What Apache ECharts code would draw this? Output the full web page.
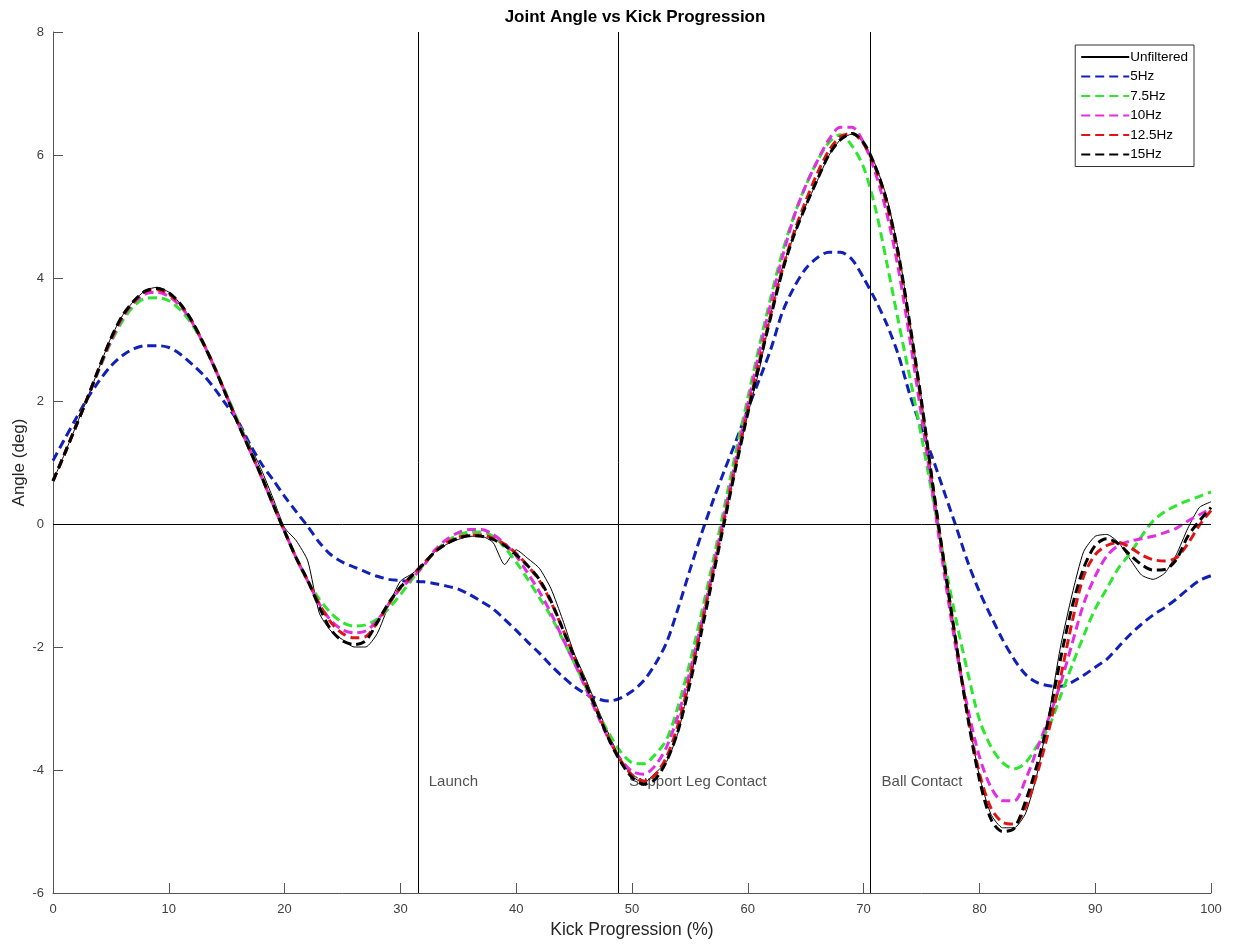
<!DOCTYPE html>
<html>
<head>
<meta charset="utf-8">
<title>Joint Angle vs Kick Progression</title>
<script src="https://cdn.jsdelivr.net/npm/echarts@6/dist/echarts.min.js"></script>
<style>
  html, body { margin: 0; padding: 0; background: #ffffff; }
  #chart { width: 1234px; height: 947px; }
</style>
</head>
<body>
<div id="chart"></div>
<script>
// Kick progression (%) sampled every 1 %
const progress = [
  0,1,2,3,4,5,6,7,8,9,10,11,12,13,14,15,16,17,18,19,20,
  21,22,23,24,25,26,27,28,29,30,31,32,33,34,35,36,37,38,39,40,
  41,42,43,44,45,46,47,48,49,50,51,52,53,54,55,56,57,58,59,60,
  61,62,63,64,65,66,67,68,69,70,71,72,73,74,75,76,77,78,79,80,
  81,82,83,84,85,86,87,88,89,90,91,92,93,94,95,96,97,98,99,100
];

// Joint angle (deg), raw signal
const unfiltered = [
  0.70,1.14,1.60,2.06,2.55,3.03,3.39,3.63,3.80,3.85,3.77,3.58,3.30,2.93,2.54,2.11,1.68,1.28,0.88,0.42,-0.06,
  -0.27,-0.60,-1.45,-1.74,-1.88,-2.00,-2.00,-1.78,-1.32,-0.93,-0.81,-0.66,-0.45,-0.33,-0.25,-0.20,-0.20,-0.30,-0.66,-0.42,
  -0.56,-0.72,-1.05,-1.55,-2.10,-2.52,-2.98,-3.42,-3.82,-4.10,-4.21,-4.05,-3.86,-3.38,-2.55,-1.70,-0.80,0.08,0.98,1.78,
  2.52,3.42,4.18,4.70,5.17,5.58,5.99,6.25,6.34,6.20,5.85,5.31,4.45,3.28,2.02,0.60,-0.68,-1.90,-3.10,-4.10,
  -4.72,-4.94,-4.94,-4.70,-4.05,-3.10,-2.00,-1.15,-0.45,-0.20,-0.17,-0.30,-0.57,-0.83,-0.90,-0.80,-0.50,-0.07,0.27,0.36
];

// Low-pass filtered versions of the same signal
const hz5 = [
  1.03,1.38,1.72,2.05,2.33,2.57,2.74,2.85,2.90,2.90,2.87,2.76,2.60,2.42,2.19,1.93,1.66,1.30,0.98,0.72,0.45,
  0.20,-0.04,-0.30,-0.50,-0.62,-0.70,-0.78,-0.85,-0.90,-0.92,-0.93,-0.94,-0.97,-1.01,-1.06,-1.15,-1.26,-1.38,-1.55,-1.73,
  -1.92,-2.10,-2.30,-2.48,-2.64,-2.76,-2.84,-2.88,-2.83,-2.72,-2.55,-2.28,-1.92,-1.36,-0.75,-0.16,0.38,0.88,1.36,1.87,
  2.35,2.85,3.45,3.85,4.15,4.33,4.42,4.42,4.30,4.00,3.65,3.25,2.75,2.10,1.55,1.05,0.50,-0.05,-0.62,-1.10,
  -1.50,-1.88,-2.20,-2.45,-2.58,-2.63,-2.64,-2.57,-2.46,-2.33,-2.20,-2.00,-1.80,-1.63,-1.48,-1.36,-1.22,-1.06,-0.92,-0.84
];

const hz7_5 = [
  0.70,1.14,1.60,2.06,2.52,2.95,3.30,3.55,3.67,3.68,3.63,3.48,3.25,2.92,2.53,2.10,1.66,1.22,0.78,0.33,-0.12,
  -0.55,-0.93,-1.22,-1.45,-1.60,-1.66,-1.64,-1.55,-1.37,-1.15,-0.90,-0.66,-0.45,-0.28,-0.18,-0.13,-0.13,-0.20,-0.38,-0.62,
  -0.90,-1.20,-1.50,-1.87,-2.25,-2.65,-3.05,-3.40,-3.70,-3.88,-3.90,-3.75,-3.50,-2.95,-2.25,-1.45,-0.60,0.30,1.20,2.05,
  2.90,3.70,4.43,5.02,5.50,5.90,6.20,6.33,6.15,5.80,5.15,4.25,3.30,2.38,1.42,0.40,-0.63,-1.57,-2.42,-3.18,
  -3.62,-3.88,-3.98,-3.88,-3.60,-3.30,-2.80,-2.30,-1.82,-1.38,-1.05,-0.72,-0.48,-0.20,0.05,0.20,0.30,0.38,0.45,0.52
];

const hz10 = [
  0.70,1.14,1.60,2.06,2.53,2.98,3.35,3.60,3.74,3.77,3.70,3.54,3.28,2.93,2.52,2.08,1.63,1.20,0.77,0.32,-0.12,
  -0.55,-0.93,-1.30,-1.57,-1.72,-1.77,-1.74,-1.57,-1.30,-1.05,-0.88,-0.68,-0.42,-0.25,-0.14,-0.09,-0.09,-0.17,-0.32,-0.52,
  -0.80,-1.10,-1.45,-1.85,-2.25,-2.67,-3.10,-3.50,-3.82,-4.02,-4.07,-3.93,-3.62,-3.10,-2.40,-1.60,-0.72,0.18,1.08,1.95,
  2.80,3.60,4.35,5.00,5.50,5.90,6.25,6.45,6.45,6.20,5.72,5.05,4.15,3.00,1.75,0.45,-0.85,-2.05,-3.00,-3.78,
  -4.28,-4.50,-4.50,-4.15,-3.65,-3.15,-2.60,-1.95,-1.30,-0.85,-0.52,-0.35,-0.28,-0.24,-0.20,-0.14,-0.07,0.05,0.15,0.25
];

const hz12_5 = [
  0.70,1.14,1.60,2.06,2.55,3.00,3.37,3.62,3.78,3.81,3.74,3.57,3.30,2.94,2.53,2.08,1.63,1.20,0.77,0.32,-0.12,
  -0.55,-0.92,-1.30,-1.60,-1.78,-1.85,-1.83,-1.60,-1.30,-1.03,-0.84,-0.64,-0.45,-0.30,-0.22,-0.18,-0.18,-0.23,-0.33,-0.48,
  -0.68,-0.92,-1.27,-1.70,-2.15,-2.60,-3.05,-3.48,-3.84,-4.08,-4.18,-4.08,-3.78,-3.25,-2.50,-1.65,-0.78,0.10,1.00,1.85,
  2.65,3.42,4.15,4.75,5.25,5.70,6.07,6.30,6.35,6.18,5.80,5.20,4.35,3.20,1.95,0.60,-0.70,-1.95,-3.12,-4.05,
  -4.62,-4.85,-4.88,-4.60,-4.05,-3.35,-2.50,-1.60,-0.85,-0.50,-0.35,-0.30,-0.38,-0.50,-0.58,-0.60,-0.55,-0.32,-0.02,0.22
];

const hz15 = [
  0.70,1.14,1.60,2.06,2.55,3.02,3.39,3.63,3.79,3.83,3.76,3.58,3.30,2.93,2.52,2.07,1.62,1.20,0.78,0.32,-0.12,
  -0.55,-0.92,-1.35,-1.72,-1.90,-1.96,-1.90,-1.60,-1.28,-1.03,-0.84,-0.65,-0.45,-0.32,-0.23,-0.19,-0.20,-0.25,-0.35,-0.50,
  -0.68,-0.90,-1.25,-1.70,-2.15,-2.60,-3.05,-3.50,-3.86,-4.12,-4.23,-4.15,-3.85,-3.35,-2.60,-1.75,-0.85,0.05,0.95,1.80,
  2.60,3.38,4.12,4.70,5.17,5.60,6.00,6.25,6.35,6.20,5.82,5.25,4.40,3.25,2.00,0.60,-0.70,-1.95,-3.15,-4.15,
  -4.80,-5.00,-4.95,-4.50,-3.90,-3.15,-2.20,-1.35,-0.72,-0.35,-0.24,-0.32,-0.50,-0.66,-0.75,-0.74,-0.58,-0.20,0.05,0.27
];

// Kick events (% of kick)
const eventNames = ['Launch', 'Support Leg Contact', 'Ball Contact'];
const eventAt = [31.5, 48.8, 70.6];

// Axis ticks
const xTicks = [0, 10, 20, 30, 40, 50, 60, 70, 80, 90, 100];
const yTicks = [-6, -4, -2, 0, 2, 4, 6, 8];

const pairs = ys => progress.map((x, i) => [x, ys[i]]);

const FONT = '"Liberation Sans", Arial, Helvetica, sans-serif';
const DASH = [9, 5];

function filtered(name, ys, color) {
  return {
    name: name,
    type: 'line',
    data: pairs(ys),
    symbol: 'none',
    showSymbol: false,
    smooth: 0.3,
    lineStyle: { color: color, width: 3, type: DASH },
    itemStyle: { color: color },
    z: 3
  };
}

const chart = echarts.init(document.getElementById('chart'), null, { renderer: 'canvas' });

chart.setOption({
  animation: false,
  backgroundColor: '#ffffff',
  title: {
    text: 'Joint Angle vs Kick Progression',
    left: 630,
    textAlign: 'center',
    top: 4,
    textStyle: { fontFamily: FONT, fontSize: 17, fontWeight: 'bold', color: '#000' }
  },
  grid: { left: 53, right: 23, top: 32, bottom: 54, containLabel: false, outerBoundsMode: 'none' },
  legend: {
    data: ['Unfiltered', '5Hz', '7.5Hz', '10Hz', '12.5Hz', '15Hz'],
    orient: 'vertical',
    right: 40,
    top: 45,
    itemWidth: 48,
    itemHeight: 12,
    itemGap: 5.5,
    padding: [5, 6, 5, 5],
    borderColor: '#333',
    borderWidth: 1,
    backgroundColor: '#fff',
    itemStyle: { opacity: 0 },
    textStyle: { fontFamily: FONT, fontSize: 13.5, color: '#000', padding: [0, 0, 0, -4] }
  },
  xAxis: {
    type: 'value',
    min: xTicks[0],
    max: xTicks[xTicks.length - 1],
    interval: 10,
    name: 'Kick Progression (%)',
    nameLocation: 'middle',
    nameGap: 27,
    nameTextStyle: { fontFamily: FONT, fontSize: 17.5, color: '#262626' },
    axisLine: { onZero: false, lineStyle: { color: '#555', width: 1 } },
    axisTick: { inside: true, length: 10, lineStyle: { color: '#555' } },
    axisLabel: { fontFamily: FONT, fontSize: 13, color: '#404040', margin: 10 },
    splitLine: { show: false }
  },
  yAxis: {
    type: 'value',
    min: yTicks[0],
    max: yTicks[yTicks.length - 1],
    interval: 2,
    name: 'Angle (deg)',
    nameLocation: 'middle',
    nameRotate: 90,
    nameGap: 25,
    nameMoveOverlap: false,
    nameTextStyle: { fontFamily: FONT, fontSize: 17, color: '#262626' },
    axisLine: { show: true, onZero: false, lineStyle: { color: '#555', width: 1 } },
    axisTick: { show: true, inside: true, length: 10, lineStyle: { color: '#555' } },
    axisLabel: { fontFamily: FONT, fontSize: 13, color: '#404040', margin: 9 },
    splitLine: { show: false }
  },
  series: [
    {
      name: 'events',
      type: 'scatter',
      data: eventAt.map((x, i) => ({ value: [x, -4.2], name: eventNames[i] })),
      symbolSize: 0,
      silent: true,
      z: 1,
      label: {
        show: true,
        position: 'right',
        distance: 11,
        formatter: p => p.name,
        fontFamily: FONT,
        fontSize: 15,
        color: '#262626'
      },
      markLine: {
        silent: true,
        symbol: ['none', 'none'],
        label: { show: false },
        lineStyle: { color: '#000', width: 1, type: 'solid' },
        data: [{ yAxis: 0 }].concat(eventAt.map(x => ({ xAxis: x })))
      }
    },
    {
      name: 'Unfiltered',
      type: 'line',
      data: pairs(unfiltered),
      symbol: 'none',
      showSymbol: false,
      smooth: 0.2,
      lineStyle: { color: '#000', width: 1, type: 'solid' },
      itemStyle: { color: '#000' },
      z: 2
    },
    filtered('5Hz', hz5, '#1020b8'),
    filtered('7.5Hz', hz7_5, '#2ee62e'),
    filtered('10Hz', hz10, '#e22ee2'),
    filtered('12.5Hz', hz12_5, '#e01414'),
    filtered('15Hz', hz15, '#000000')
  ]
});
</script>
</body>
</html>
